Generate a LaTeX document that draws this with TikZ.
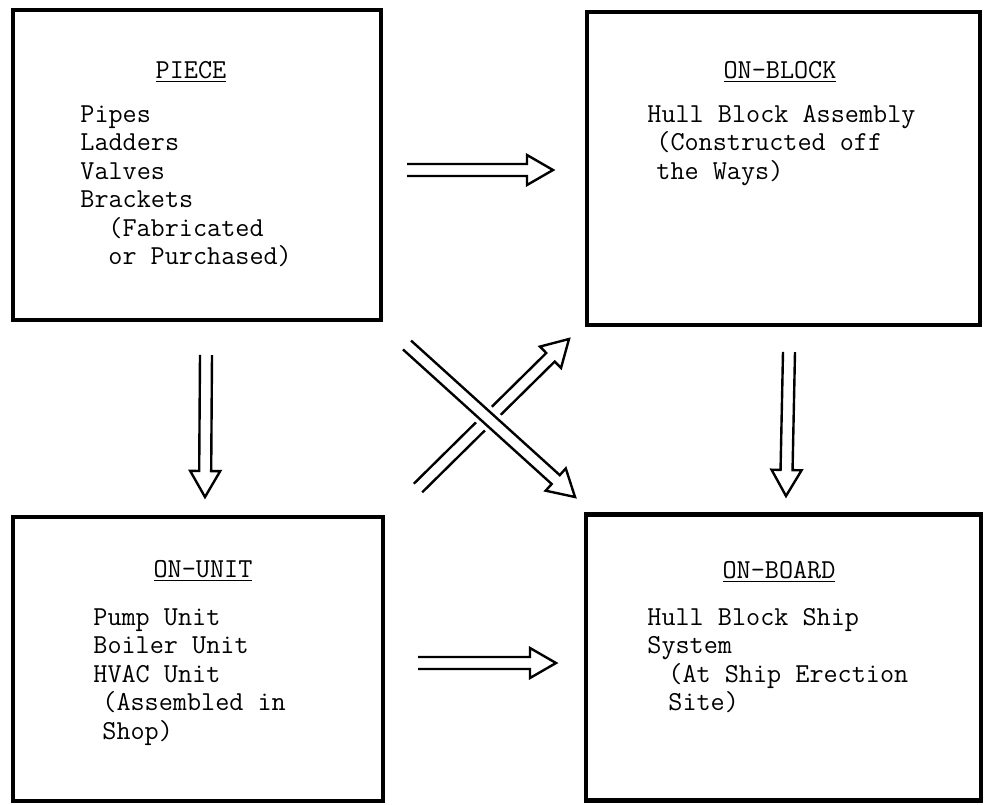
\documentclass[tikz,border=0pt]{standalone}
\usetikzlibrary{calc}

\tikzset{
  box/.style={draw, line width=2.2pt, inner sep=0pt},
  head/.style={anchor=base, inner sep=0pt},
  txt/.style={anchor=base west, inner sep=0pt},
  arrowline/.style={line width=1.2pt, line join=miter}
}

% hollow double arrow from #1 to #2
\newcommand{\dblarrow}[2]{%
  \coordinate (hb) at ($(#2)!13pt!(#1)$);
  \draw[arrowline] ($(#1)!3pt!90:(#2)$) -- ($(hb)!3pt!90:(#2)$)
    -- ($(hb)!7.5pt!90:(#2)$) -- (#2)
    -- ($(hb)!7.5pt!-90:(#2)$) -- ($(hb)!3pt!-90:(#2)$)
    -- ($(#1)!3pt!-90:(#2)$);
}

\begin{document}
\begin{tikzpicture}[x=0.5pt,y=-0.5pt,font=\ttfamily\fontsize{13.7}{14.25}\selectfont]

\useasboundingbox (0,0) rectangle (984,804);

% Boxes
\node[box, minimum width=184pt, minimum height=155pt] (piece) at (197,165) {};
\node[box, minimum width=196.5pt, minimum height=156.5pt] (onblock) at (783.5,168.5) {};
\node[box, minimum width=185pt, minimum height=142pt] (onunit) at (198,659) {};
\node[box, minimum width=197.5pt, minimum height=143pt] (onboard) at (783.5,657.5) {};

% Piece
\node[head] (pieceh) at (191,78) {\underline{PIECE}};
\node[txt] (piece1) at (80,122) {Pipes};
\node[txt] (piece2) at (80,150.5) {Ladders};
\node[txt] (piece3) at (80,179) {Valves};
\node[txt] (piece4) at (80,207.5) {Brackets};
\node[txt] (piece5) at (108,236) {(Fabricated};
\node[txt] (piece6) at (108,264.5) {or Purchased)};

% On-block
\node[head] (onblockh) at (780,78) {\underline{ON-BLOCK}};
\node[txt] (onblock1) at (647,122) {Hull Block Assembly};
\node[txt] (onblock2) at (656,150.5) {(Constructed off};
\node[txt] (onblock3) at (656,179) {the Ways)};

% On-unit
\node[head] (onunith) at (203,577) {\underline{ON-UNIT}};
\node[txt] (onunit1) at (93,625) {Pump Unit};
\node[txt] (onunit2) at (93,653.5) {Boiler Unit};
\node[txt] (onunit3) at (93,682) {HVAC Unit};
\node[txt] (onunit4) at (102,710.5) {(Assembled in};
\node[txt] (onunit5) at (102,739) {Shop)};

% On-board
\node[head] (onboardh) at (779,578) {\underline{ON-BOARD}};
\node[txt] (onboard1) at (647,625) {Hull Block Ship};
\node[txt] (onboard2) at (647,653.5) {System};
\node[txt] (onboard3) at (668,682) {(At Ship Erection};
\node[txt] (onboard4) at (668,710.5) {Site)};

% Arrow ends
\coordinate (pb1) at (407,170);
\coordinate (pb2) at (553,170);
\coordinate (uo1) at (418,663);
\coordinate (uo2) at (556,663);
\coordinate (pu1) at (206,355);
\coordinate (pu2) at (205,497);
\coordinate (bo1) at (789,352);
\coordinate (bo2) at (786,496);
\coordinate (ub1) at (418,488);
\coordinate (ub2) at (569,339);
\coordinate (pd1) at (407,345);
\coordinate (pd2) at (575,497);

% Arrows
\dblarrow{pb1}{pb2}
\dblarrow{uo1}{uo2}
\dblarrow{pu1}{pu2}
\dblarrow{bo1}{bo2}

% Crossing
\dblarrow{ub1}{ub2}
\draw[white, line width=11pt] ($(pd1)!0.35!(pd2)$) -- ($(pd1)!0.65!(pd2)$);
\dblarrow{pd1}{pd2}

\end{tikzpicture}
\end{document}
